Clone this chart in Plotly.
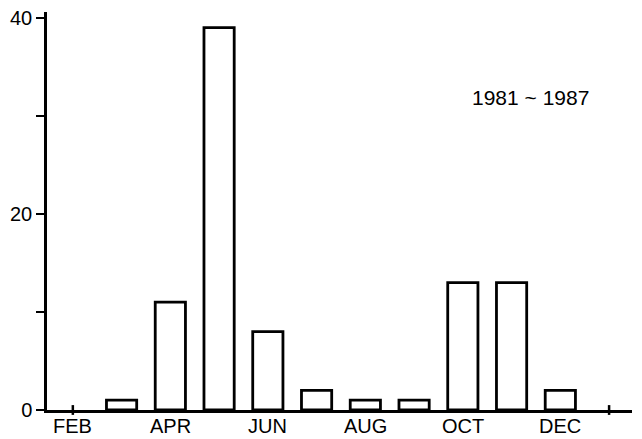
import plotly.graph_objects as go

# Data
months = ["FEB", "MAR", "APR", "MAY", "JUN", "JUL", "AUG", "SEP", "OCT", "NOV", "DEC", "JAN"]
month_pos = [2, 3, 4, 5, 6, 7, 8, 9, 10, 11, 12, 13]
counts = [0, 1, 11, 39, 8, 2, 1, 1, 13, 13, 2, 0]
x_tick_vals = [2, 4, 6, 8, 10, 12]
x_tick_text = ["FEB", "APR", "JUN", "AUG", "OCT", "DEC"]
y_tick_vals = [0, 10, 20, 30, 40]
y_tick_text = ["0", "", "20", "", "40"]
period_label = "1981 ~ 1987"

nz_x = [p for p, c in zip(month_pos, counts) if c > 0]
nz_y = [c for c in counts if c > 0]
z_x = [p for p, c in zip(month_pos, counts) if c == 0]
z_y = [c for c in counts if c == 0]

fig = go.Figure()
fig.add_trace(go.Bar(
    x=nz_x, y=nz_y, width=0.62,
    marker=dict(color="white", line=dict(color="black", width=2.8)),
))
fig.add_trace(go.Scatter(
    x=z_x, y=z_y, mode="markers",
    marker=dict(symbol="line-ns", size=7, line=dict(color="black", width=2.5)),
    cliponaxis=False,
))

ff = "Liberation Sans, Arial, sans-serif"
font = dict(family=ff, size=20, color="black")

annotations = [dict(
    text=period_label, xref="paper", yref="paper",
    x=0.826, y=0.786, xanchor="center", yanchor="middle", showarrow=False,
    font=dict(family=ff, size=21, color="black"),
)]
# month labels along the x axis
for v, t in zip(x_tick_vals, x_tick_text):
    annotations.append(dict(
        text=t, x=v, y=0, xref="x", yref="y",
        xanchor="center", yanchor="middle", yshift=-16,
        showarrow=False, font=font,
    ))

# page body adds an 8px offset; figure is sized to fit the window
fig.update_layout(
    width=634, height=431,
    margin=dict(l=39, r=10, t=4, b=29, autoexpand=False),
    paper_bgcolor="white", plot_bgcolor="white",
    showlegend=False,
    font=font,
    xaxis=dict(
        range=[1.47, 13.47], automargin=False,
        tickvals=x_tick_vals, showticklabels=False,
        ticks="", showgrid=False, zeroline=False,
        showline=True, linecolor="black", linewidth=2.5,
    ),
    yaxis=dict(
        range=[0, 40.6], automargin=False,
        tickvals=y_tick_vals, ticktext=y_tick_text,
        ticks="outside", ticklen=8, tickwidth=2, tickcolor="black",
        showgrid=False, zeroline=False,
        showline=True, linecolor="black", linewidth=2.5,
        tickfont=font, ticklabeloverflow="allow",
    ),
    annotations=annotations,
)

fig.write_html("out.html")
